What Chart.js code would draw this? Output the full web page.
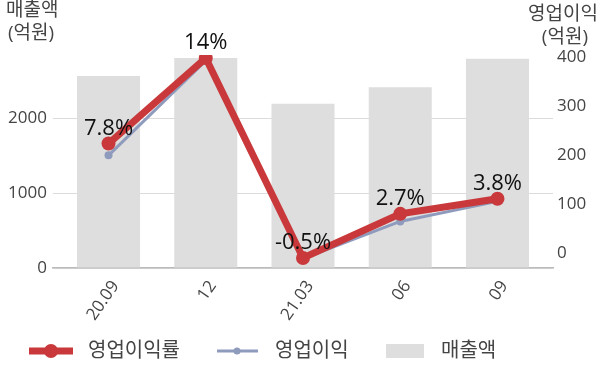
<!DOCTYPE html>
<html><head><meta charset="utf-8">
<script src="https://cdn.jsdelivr.net/npm/chart.js@4.4.1/dist/chart.umd.min.js"></script>
<style>html,body{margin:0;padding:0;background:#fff}#wrap{width:600px;height:383px;position:relative}</style>
</head><body><div id="wrap"><canvas id="c" width="600" height="383"></canvas></div>
<script>
const labels = ['20.09', '12', '21.03', '06', '09'];
const sales = [2560, 2800, 2190, 2410, 2790];
const opProfit = [200, 393, -11, 65, 106];
const opMargin = [7.8, 14, -0.5, 2.7, 3.8];
const leftTicks = [0, 1000, 2000];
const rightTicks = [0, 100, 200, 300, 400];
const leftTitle = ['매출액', '(억원)'];
const rightTitle = ['영업이익', '(억원)'];
const legendNames = ['영업이익률', '영업이익', '매출액'];

const FONT = "'Open Sans','Noto Sans CJK KR',sans-serif";
const RED = '#c9393b', BLUE = '#8f9bbd', GRAY = '#dedede';
const toXY = arr => arr.map((v, i) => ({x: i, y: v}));

const overlay = {
  id: 'overlay',
  afterDatasetsDraw(chart) {
    const ctx = chart.ctx;
    const meta = chart.getDatasetMeta(0);
    ctx.save();
    ctx.font = '22px ' + FONT;
    ctx.fillStyle = '#111';
    ctx.textAlign = 'center';
    ctx.textBaseline = 'middle';
    meta.data.forEach((p, i) => {
      ctx.fillText(opMargin[i] + '%', p.x, p.y - 15);
    });
    ctx.restore();
  },
  afterDraw(chart) {
    const ctx = chart.ctx;
    ctx.save();
    ctx.font = '19px ' + FONT;
    ctx.fillStyle = '#444';
    ctx.textBaseline = 'middle';
    ctx.textAlign = 'left';
    ctx.fillText(leftTitle[0], 6, 11);
    ctx.fillText(leftTitle[1], 8, 34);
    ctx.textAlign = 'right';
    ctx.fillText(rightTitle[0], 598, 15);
    ctx.fillText(rightTitle[1], 588, 38);
    // legend
    const ly = 351;
    ctx.lineCap = 'butt';
    ctx.strokeStyle = RED; ctx.lineWidth = 7;
    ctx.beginPath(); ctx.moveTo(29, ly); ctx.lineTo(73, ly); ctx.stroke();
    ctx.fillStyle = RED; ctx.beginPath(); ctx.arc(51, ly, 7, 0, Math.PI * 2); ctx.fill();
    ctx.strokeStyle = BLUE; ctx.lineWidth = 3;
    ctx.beginPath(); ctx.moveTo(217, ly); ctx.lineTo(258, ly); ctx.stroke();
    ctx.fillStyle = BLUE; ctx.beginPath(); ctx.arc(237, ly, 3.5, 0, Math.PI * 2); ctx.fill();
    ctx.fillStyle = GRAY; ctx.fillRect(386, ly - 7, 38, 14);
    ctx.font = '20px ' + FONT;
    ctx.fillStyle = '#444';
    ctx.textAlign = 'left';
    ctx.fillText(legendNames[0], 88, ly);
    ctx.fillText(legendNames[1], 275, ly);
    ctx.fillText(legendNames[2], 441, ly);
    ctx.restore();
  }
};

new Chart(document.getElementById('c'), {
  type: 'bar',
  data: {
    datasets: [
      {type: 'line', label: legendNames[0], data: toXY(opMargin), yAxisID: 'y2', order: 0,
       borderColor: RED, backgroundColor: RED, borderWidth: 7, pointRadius: 7, pointBackgroundColor: RED,
       pointBorderWidth: 0, tension: 0},
      {type: 'line', label: legendNames[1], data: toXY(opProfit), yAxisID: 'y1', order: 1,
       borderColor: BLUE, backgroundColor: BLUE, borderWidth: 3, pointRadius: 4, pointBackgroundColor: BLUE,
       pointBorderWidth: 0, tension: 0},
      {type: 'bar', label: legendNames[2], data: toXY(sales), yAxisID: 'y', order: 2,
       backgroundColor: GRAY, borderWidth: 0, barPercentage: 0.81, categoryPercentage: 0.8}
    ]
  },
  options: {
    responsive: false,
    animation: false,
    layout: {padding: {top: 55, left: 0, right: 0, bottom: 0}},
    plugins: {legend: {display: false}, tooltip: {enabled: false}},
    scales: {
      x: {
        type: 'linear', min: -0.571, max: 4.571, offset: false,
        afterBuildTicks: s => { s.ticks = labels.map((l, i) => ({value: i})); },
        afterFit: s => { s.height = 115; },
        grid: {display: false, drawTicks: false},
        border: {display: true, color: '#bbb', width: 1.5},
        ticks: {autoSkip: false, minRotation: 55, maxRotation: 55, padding: 9, labelOffset: 7,
                font: {family: FONT, size: 17}, color: '#444',
                callback: v => labels[v]}
      },
      y: {
        position: 'left', min: 0, max: 2840,
        afterBuildTicks: s => { s.ticks = leftTicks.map(v => ({value: v})); },
        afterFit: s => { s.width = 53; },
        grid: {color: '#dcdcdc', drawTicks: false, lineWidth: 1},
        border: {display: false},
        ticks: {padding: 6, font: {family: FONT, size: 17}, color: '#444', callback: v => String(v)}
      },
      y1: {
        position: 'right', min: -30, max: 404.7,
        afterBuildTicks: s => { s.ticks = rightTicks.map(v => ({value: v})); },
        afterFit: s => { s.width = 47; },
        grid: {display: false, drawTicks: false},
        border: {display: false},
        ticks: {padding: 4, font: {family: FONT, size: 17}, color: '#444', callback: v => String(v)}
      },
      y2: {
        display: false, min: -1.225, max: 14.22
      }
    }
  },
  plugins: [overlay]
});
</script></body></html>
